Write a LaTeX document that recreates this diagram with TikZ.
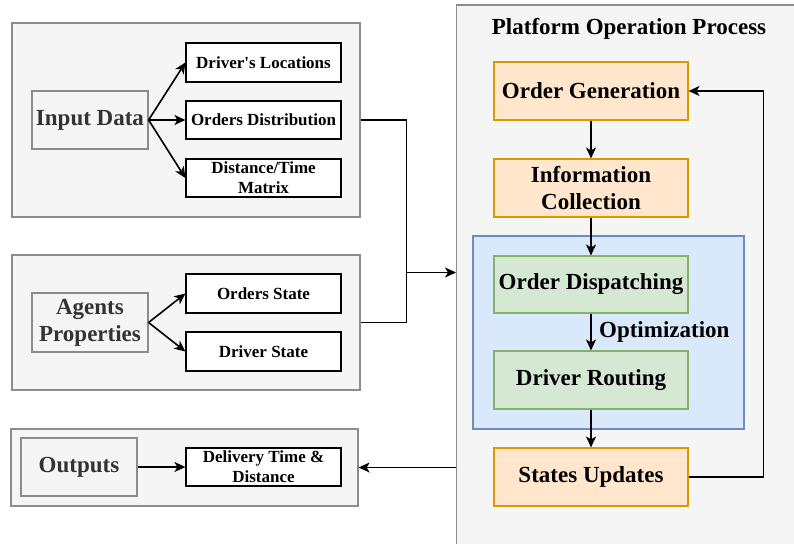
\documentclass[tikz,border=0pt]{standalone}
\usepackage{fontspec}
\setmainfont{Liberation Serif}
\usetikzlibrary{arrows.meta}
\definecolor{contfill}{HTML}{F5F5F5}
\definecolor{contdraw}{HTML}{8C8C8C}
\definecolor{graytext}{HTML}{333333}
\definecolor{orfill}{HTML}{FFE6CC}
\definecolor{ordraw}{HTML}{D79B00}
\definecolor{blfill}{HTML}{DAE8FC}
\definecolor{bldraw}{HTML}{6C8EBF}
\definecolor{grfill}{HTML}{D5E8D4}
\definecolor{grdraw}{HTML}{82B366}
\tikzset{
  big/.style={font=\fontsize{23}{27}\selectfont\bfseries},
  small/.style={font=\fontsize{17}{20}\selectfont\bfseries},
  container/.style={draw=contdraw, fill=contfill, line width=1.2pt, inner sep=0pt},
  graynode/.style={container, big, text=graytext, align=center},
  whitebox/.style={draw=black, fill=white, line width=1.2pt, small, align=center, minimum width=155pt, inner sep=0pt},
  orbox/.style={draw=ordraw, fill=orfill, line width=1.1pt, big, align=center, minimum width=194pt, minimum height=58pt, inner sep=0pt},
  grbox/.style={draw=grdraw, fill=grfill, line width=1.1pt, big, align=center, minimum width=194pt, minimum height=58pt, inner sep=0pt},
  arr/.style={draw=black, line width=1.6pt, -{Stealth[length=11pt,width=10pt,inset=3pt]}},
  ln/.style={draw=black, line width=1.6pt},
}
\begin{document}
\begin{tikzpicture}[x=1pt,y=-1pt]
\useasboundingbox (0,0) rectangle (794,543);
\clip (0,0) rectangle (794,543);
\fill[white] (0,0) rectangle (794,543);

% Left containers
\node[container, minimum width=348pt, minimum height=194pt] (idc) at (186,120) {};
\node[container, minimum width=348pt, minimum height=135pt] (apc) at (186,322.5) {};
\node[container, minimum width=347pt, minimum height=77pt] (outc) at (184.5,467.5) {};

\node[graynode, minimum width=116pt, minimum height=58pt] (idn) at (90,120) {Input Data};
\node[graynode, minimum width=116pt, minimum height=59pt] (apn) at (90,322.5) {Agents\\Properties};
\node[graynode, minimum width=116pt, minimum height=58pt] (outn) at (79,467) {Outputs};

\node[whitebox, minimum height=39pt] (dl) at (263.5,62.5) {Driver\textquotesingle s Locations};
\node[whitebox, minimum height=38pt] (od) at (263.5,120) {Orders Distribution};
\node[whitebox, minimum height=38pt] (dtm) at (263.5,178) {Distance/Time\\Matrix};
\node[whitebox, minimum height=39pt] (os) at (263.5,293.5) {Orders State};
\node[whitebox, minimum height=39pt] (ds) at (263.5,351.5) {Driver State};
\node[whitebox, minimum height=38pt] (dtd) at (263.5,467) {Delivery Time \&\\Distance};

\draw[arr] (idn.east) -- (dl.west);
\draw[arr] (idn.east) -- (od.west);
\draw[arr] (idn.east) -- (dtm.west);
\draw[arr] (apn.east) -- (os.west);
\draw[arr] (apn.east) -- (ds.west);
\draw[arr] (outn.east) -- (dtd.west);

% Platform container
\node[container, minimum width=360pt, minimum height=570pt, anchor=north west] (pc) at (456,4.5) {};
\node[big, anchor=center] (title) at (629,29) {Platform Operation Process};

\node[draw=bldraw, fill=blfill, line width=1.1pt, minimum width=271pt, minimum height=193pt, inner sep=0pt] (blue) at (608.5,332.5) {};

\node[orbox] (og) at (591,91) {Order Generation};
\node[orbox] (ic) at (591,188) {Information\\Collection};
\node[grbox, minimum height=57pt] (odp) at (591,284.5) {Order Dispatching};
\node[grbox] (dr) at (591,380) {Driver Routing};
\node[orbox] (su) at (591,477) {States Updates};

\draw[arr] (og.south) -- (ic.north);
\draw[arr] (ic.south) -- (odp.north);
\draw[arr] (odp.south) -- node[big, right=4pt] (optl) {Optimization} (dr.north);
\draw[arr] (dr.south) -- (su.north);
\draw[arr] (su.east) -- ++(75,0) |- (og.east);

% Connections between left and platform
\coordinate (j) at (406.5,272.5);
\draw[ln] (idc.east) -| (j);
\draw[ln] (apc.east) -| (j);
\draw[arr] (j) -- (j -| pc.west);
\draw[arr] (pc.west |- outc.east) -- (outc.east);
\end{tikzpicture}
\end{document}
